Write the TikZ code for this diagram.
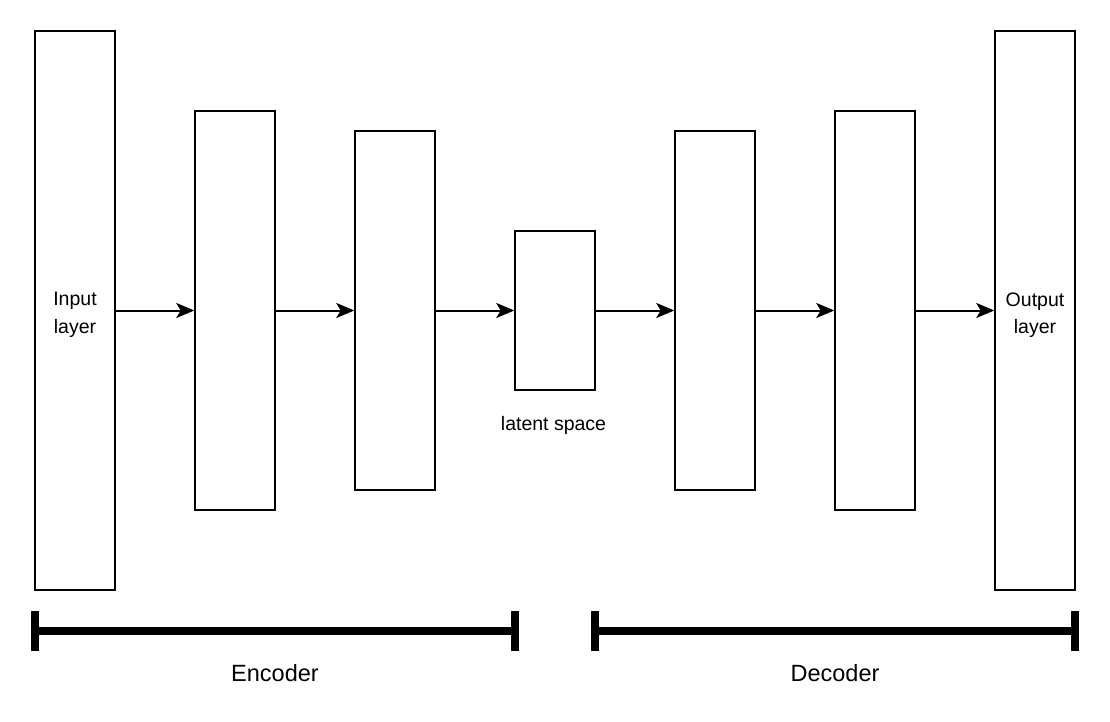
\documentclass[tikz,border=0pt]{standalone}
\usepackage{fontspec}
\setmainfont{Liberation Sans}
\usetikzlibrary{arrows.meta}
\tikzset{
  layerbox/.style={draw=black, line width=1.5pt, fill=white, minimum width=80pt, inner sep=0pt},
  flow/.style={line width=2pt, -{Stealth[length=18pt,width=15pt,inset=4.5pt]}},
  bracketbar/.style={line width=8pt},
  smalltext/.style={font=\fontsize{19.5}{27.5}\selectfont, inner sep=0pt, align=center},
  bigtext/.style={font=\fontsize{23.5}{28}\selectfont, inner sep=0pt}
}
\begin{document}
\begin{tikzpicture}[x=1pt,y=-1pt]
\useasboundingbox (0,0) rectangle (1110,722);
\fill[white] (0,0) rectangle (1110,722);
\node[layerbox, minimum height=559pt] (in) at (75,310.5) {};
\node[layerbox, minimum height=399pt] (e1) at (235,310.5) {};
\node[layerbox, minimum height=359pt] (e2) at (395,310.5) {};
\node[layerbox, minimum height=159pt] (lat) at (555,310.5) {};
\node[layerbox, minimum height=359pt] (d1) at (715,310.5) {};
\node[layerbox, minimum height=399pt] (d2) at (875,310.5) {};
\node[layerbox, minimum height=559pt] (out) at (1035,310.5) {};
\node[smalltext] (inlabel) at (75,315) {Input\\layer};
\node[smalltext] (outlabel) at (1035,315) {Output\\layer};
\draw[flow] (in.east) -- (e1.west);
\draw[flow] (e1.east) -- (e2.west);
\draw[flow] (e2.east) -- (lat.west);
\draw[flow] (lat.east) -- (d1.west);
\draw[flow] (d1.east) -- (d2.west);
\draw[flow] (d2.east) -- (out.west);
\node[smalltext, anchor=base] (latlabel) at (553.5,430) {latent space};
% encoder bracket
\coordinate (encL) at (35,631);
\coordinate (encR) at (515,631);
\coordinate (encLt) at (35,611);
\coordinate (encLb) at (35,651);
\coordinate (encRt) at (515,611);
\coordinate (encRb) at (515,651);
\draw[bracketbar] (encL) -- (encR);
\draw[bracketbar] (encLt) -- (encLb);
\draw[bracketbar] (encRt) -- (encRb);
% decoder bracket
\coordinate (decL) at (595,631);
\coordinate (decR) at (1075,631);
\coordinate (decLt) at (595,611);
\coordinate (decLb) at (595,651);
\coordinate (decRt) at (1075,611);
\coordinate (decRb) at (1075,651);
\draw[bracketbar] (decL) -- (decR);
\draw[bracketbar] (decLt) -- (decLb);
\draw[bracketbar] (decRt) -- (decRb);
\node[bigtext, anchor=base] (enclabel) at (275,681) {Encoder};
\node[bigtext, anchor=base] (declabel) at (835,681) {Decoder};
\end{tikzpicture}
\end{document}
